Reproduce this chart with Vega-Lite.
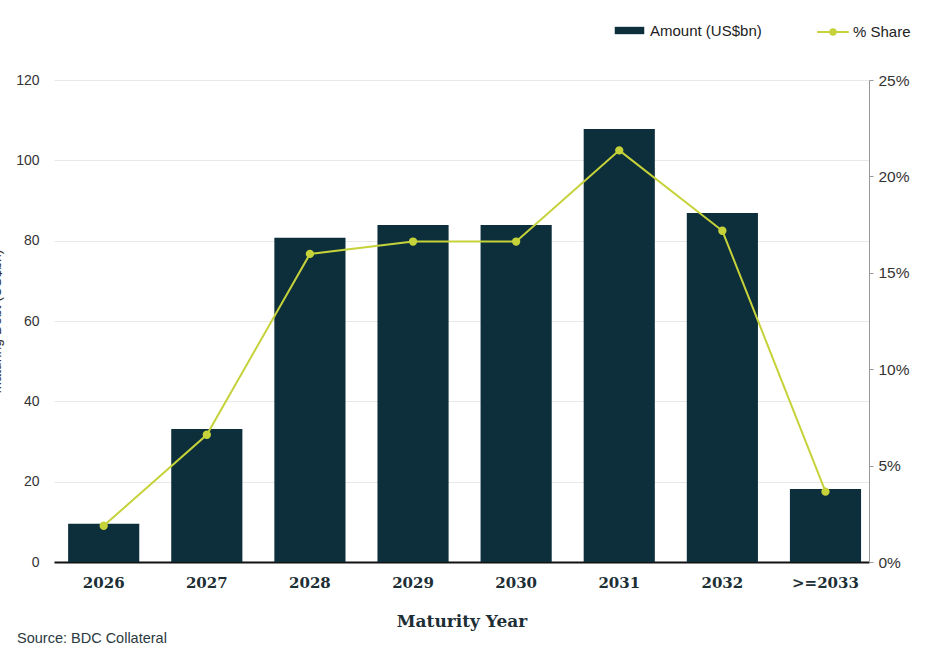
{
  "$schema": "https://vega.github.io/schema/vega-lite/v6.json",
  "width": 815,
  "height": 482,
  "autosize": {"type": "none"},
  "padding": {"left": 54, "top": 80, "right": 67, "bottom": 93},
  "background": "white",
  "data": {
    "values": [
      {"Year": "2026", "Amount": 9.5, "Share": 0.0188},
      {"Year": "2027", "Amount": 33.1, "Share": 0.0660},
      {"Year": "2028", "Amount": 80.7, "Share": 0.1598},
      {"Year": "2029", "Amount": 83.9, "Share": 0.1662},
      {"Year": "2030", "Amount": 83.9, "Share": 0.1662},
      {"Year": "2031", "Amount": 107.8, "Share": 0.2135},
      {"Year": "2032", "Amount": 86.9, "Share": 0.1718},
      {"Year": ">=2033", "Amount": 18.2, "Share": 0.0365}
    ]
  },
  "title": {
    "text": "Source: BDC Collateral",
    "orient": "bottom",
    "anchor": "start",
    "frame": "group",
    "font": "Liberation Sans",
    "fontSize": 14.5,
    "fontWeight": "normal",
    "color": "#2b3a40",
    "dx": -37,
    "offset": 3
  },
  "encoding": {
    "x": {
      "field": "Year",
      "type": "nominal",
      "sort": null,
      "scale": {"paddingInner": 0.31, "paddingOuter": 0.107, "align": 0.64},
      "axis": {
        "title": "Maturity Year",
        "titleFont": "DejaVu Serif",
        "titleFontSize": 17,
        "titleFontWeight": "bold",
        "titleColor": "#1d2e35",
        "titlePadding": 23,
        "labelFont": "DejaVu Serif",
        "labelFontSize": 15,
        "labelFontWeight": "bold",
        "labelColor": "#1d2e35",
        "labelAngle": 0,
        "labelPadding": 13,
        "ticks": false,
        "domainColor": "#111111",
        "domainWidth": 2
      }
    }
  },
  "layer": [
    {
      "mark": {"type": "bar"},
      "encoding": {
        "y": {
          "field": "Amount",
          "type": "quantitative",
          "scale": {"domain": [0, 120], "nice": false},
          "axis": {
            "title": "Maturing Debt (US$bn)",
            "titleFont": "Liberation Sans",
            "titleFontSize": 14,
            "titleColor": "#333333",
            "titleFontWeight": "normal",
            "titleX": -51,
            "values": [0, 20, 40, 60, 80, 100, 120],
            "grid": true,
            "gridColor": "#e8e8e8",
            "domain": false,
            "ticks": false,
            "labelPadding": 15,
            "labelFont": "Liberation Sans",
            "labelFontSize": 14,
            "labelColor": "#333333"
          }
        },
        "fill": {
          "datum": "Amount (US$bn)",
          "scale": {"range": ["#0c2f3b"]},
          "legend": {
            "title": null,
            "orient": "none",
            "legendX": 566,
            "legendY": -59,
            "symbolType": "M-1.6,-0.4H1.6V0.4H-1.6Z",
            "symbolSize": 340,
            "symbolStrokeWidth": 0,
            "labelFont": "Liberation Sans",
            "labelFontSize": 15,
            "labelColor": "#222222",
            "labelOffset": 11
          }
        }
      }
    },
    {
      "mark": {"type": "line", "strokeWidth": 2, "point": {"filled": true, "size": 40, "color": "#c6d23a"}},
      "encoding": {
        "y": {
          "field": "Share",
          "type": "quantitative",
          "scale": {"domain": [0, 0.25], "nice": false},
          "axis": {
            "orient": "right",
            "title": null,
            "format": ".0%",
            "values": [0, 0.05, 0.1, 0.15, 0.2, 0.25],
            "grid": false,
            "domain": true,
            "domainColor": "#999999",
            "ticks": true,
            "tickColor": "#999999",
            "tickSize": 4,
            "labelPadding": 5,
            "labelFont": "Liberation Sans",
            "labelFontSize": 15.5,
            "labelColor": "#333333"
          }
        },
        "stroke": {
          "datum": "% Share",
          "scale": {"range": ["#c6d23a"]},
          "legend": {
            "title": null,
            "orient": "none",
            "legendX": 762,
            "legendY": -65,
            "symbolType": "M-1,0H1M-0.17,0A0.17,0.17 0 1,0 0.17,0A0.17,0.17 0 1,0 -0.17,0Z",
            "symbolSize": 1000,
            "symbolStrokeWidth": 2,
            "symbolFillColor": "#c6d23a",
            "labelFont": "Liberation Sans",
            "labelFontSize": 15,
            "labelColor": "#222222",
            "labelOffset": 3
          }
        }
      }
    }
  ],
  "resolve": {"scale": {"y": "independent"}},
  "config": {
    "view": {"stroke": null}
  }
}
